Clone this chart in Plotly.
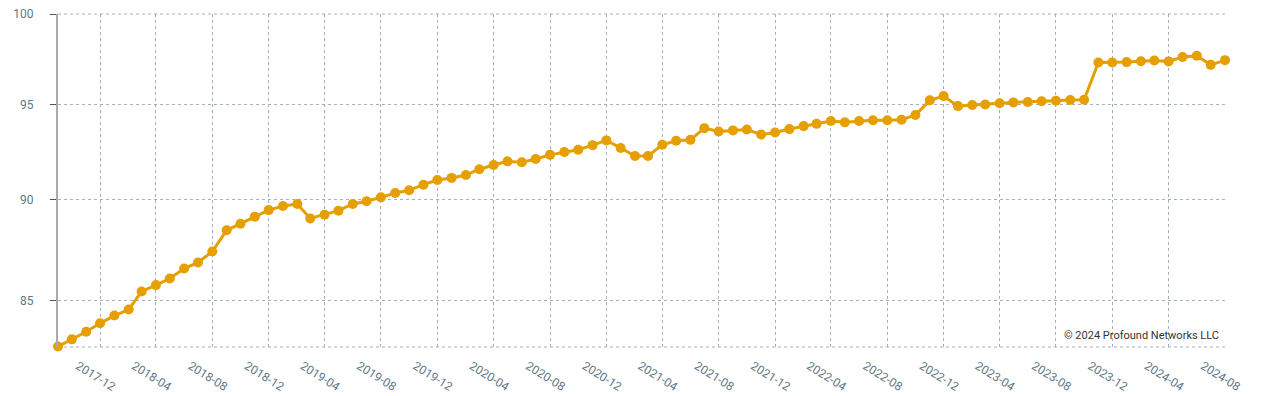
import math
import pandas as pd
import plotly.graph_objects as go

start_month = "2017-09-01"
n_points = 84
values = [
    82.80, 83.14, 83.50, 83.90, 84.27, 84.56, 85.43, 85.74, 86.06, 86.55,
    86.85, 87.39, 88.45, 88.78, 89.13, 89.47, 89.68, 89.78, 89.05, 89.23,
    89.44, 89.78, 89.92, 90.12, 90.34, 90.48, 90.77, 91.01, 91.12, 91.27,
    91.57, 91.79, 91.98, 91.93, 92.10, 92.32, 92.47, 92.59, 92.83, 93.08,
    92.68, 92.26, 92.26, 92.85, 93.06, 93.11, 93.73, 93.55, 93.61, 93.66,
    93.39, 93.50, 93.68, 93.84, 93.96, 94.11, 94.04, 94.11, 94.15, 94.15,
    94.18, 94.43, 95.22, 95.45, 94.91, 94.97, 95.00, 95.06, 95.11, 95.13,
    95.17, 95.20, 95.24, 95.25, 97.29, 97.29, 97.31, 97.36, 97.40, 97.35,
    97.59, 97.66, 97.16, 97.42,
]
dates = pd.date_range(start_month, periods=n_points, freq="MS")

x_tick_labels = ["2017-12", "2018-04", "2018-08", "2018-12", "2019-04", "2019-08",
                 "2019-12", "2020-04", "2020-08", "2020-12", "2021-04", "2021-08",
                 "2021-12", "2022-04", "2022-08", "2022-12", "2023-04", "2023-08",
                 "2023-12", "2024-04", "2024-08"]
y_tick_values = [85, 90, 95, 100]

grid_color = "#9fb1bd"
tick_font_color = "#5f7888"

fig = go.Figure()
fig.add_trace(go.Scatter(
    x=dates, y=values, mode="lines+markers",
    line=dict(color="#E69F00", width=3),
    marker=dict(color="#E69F00", size=10),
    cliponaxis=False, showlegend=False,
))

edge_line = dict(color=grid_color, width=1, dash="3px,3px")

fig.update_layout(
    width=1253, height=388,
    margin=dict(l=50, r=36, t=6, b=49, autoexpand=False),
    paper_bgcolor="white", plot_bgcolor="white",
    font=dict(family="Roboto", size=12, color=tick_font_color),
    xaxis=dict(
        type="date",
        automargin=False,
        range=[dates[0], dates[-1]],
        tickvals=[pd.Timestamp(t + "-01") for t in x_tick_labels],
        ticktext=x_tick_labels,
        tickangle=32,
        ticklabelshift=-22,
        ticklabelstandoff=9,
        ticklabeloverflow="allow",
        showgrid=True, gridcolor=grid_color, griddash="3px,3px", gridwidth=1,
        zeroline=False, showline=False, ticks="",
        tickfont=dict(size=12, color=tick_font_color),
    ),
    yaxis=dict(
        type="log",
        automargin=False,
        range=[math.log10(82.78), math.log10(100.005)],
        tickvals=y_tick_values,
        ticktext=[str(v) for v in y_tick_values],
        ticklabeloverflow="allow",
        showgrid=True, gridcolor=grid_color, griddash="3px,3px", gridwidth=1,
        zeroline=False,
        showline=True, linecolor="#aaaaaa", linewidth=2,
        ticks="outside", ticklen=6, tickcolor="#555555", tickwidth=1,
        tickfont=dict(size=12, color=tick_font_color),
        ticklabelstandoff=14,
    ),
    shapes=[
        dict(type="line", xref="paper", yref="paper", x0=0, x1=1, y0=0, y1=0,
             line=edge_line, layer="below"),
        dict(type="line", xref="paper", yref="paper", x0=0, x1=1, y0=1, y1=1,
             line=edge_line, layer="below"),
    ],
    annotations=[dict(text="© 2024 Profound Networks LLC", xref="paper", yref="paper",
                      x=0.9965, y=0.01, xanchor="right", yanchor="bottom", showarrow=False,
                      font=dict(family="Roboto", size=11, color="#333333"))],
)

fig.write_html("out.html")
